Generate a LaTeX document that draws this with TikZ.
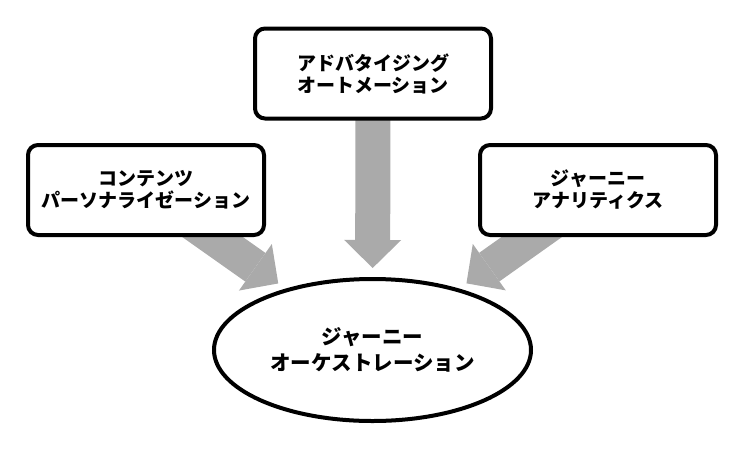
\documentclass[tikz,border=0pt]{standalone}
\usepackage{fontspec}
\newfontfamily\jpfont{Noto Sans CJK JP}
\usetikzlibrary{arrows.meta,shapes.geometric,backgrounds}
\definecolor{flowgray}{RGB}{170,170,170}
\begin{document}
\begin{tikzpicture}[x=1pt, y=-1pt,
        field/.style={rectangle, draw, line width=4pt, rounded corners=10pt, fill=white, minimum width=236pt, minimum height=90pt, align=center, font=\jpfont\bfseries\fontsize{19}{22}\selectfont},
        hub/.style={ellipse, draw, line width=4pt, fill=white, minimum width=317pt, minimum height=142pt, inner sep=0pt, align=center, font=\jpfont\bfseries\fontsize{20.5}{25.5}\selectfont},
        flow/.style={draw=flowgray, line width=35pt, -{Triangle[width=57pt, length=28pt, line width=0pt]}, shorten >=9pt}
        ]
    \useasboundingbox (0,0) rectangle (744,448);
    \node[field] (ad) at (373,73.5) {アドバタイジング\\オートメーション};
    \node[field] (cp) at (146,190) {コンテンツ\\パーソナライゼーション};
    \node[field] (ja) at (598,190) {ジャーニー\\アナリティクス};
    \node[hub] (jo) at (372.5,350) {ジャーニー\\オーケストレーション};

    \begin{scope}[on background layer]
      \draw[flow] (cp.center) -- (jo);
      \draw[flow] (ad.center) -- (jo);
      \draw[flow] (ja.center) -- (jo);
    \end{scope}
\end{tikzpicture}
\end{document}
